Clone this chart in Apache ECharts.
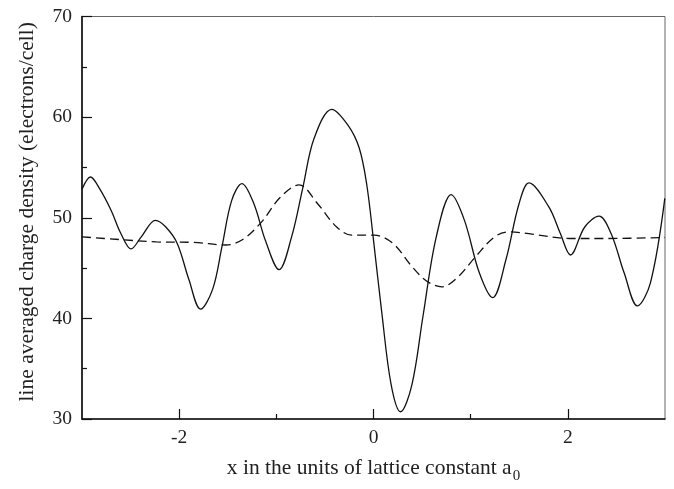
<!DOCTYPE html>
<html>
<head>
<meta charset="utf-8">
<script src="https://cdn.jsdelivr.net/npm/echarts@6/dist/echarts.min.js"></script>
<style>html,body{margin:0;padding:0;background:#fff}#c{width:674px;height:489px}</style>
</head>
<body>
<div id="c"></div>
<script>
// Solid curve: x positions and density values
const solidX = [-3.0,-2.913,-2.816,-2.70,-2.60,-2.495,-2.39,-2.244,-2.14,-2.02,-1.90,-1.78,-1.656,-1.56,-1.46,-1.354,-1.23,-1.114,-0.971,-0.843,-0.727,-0.611,-0.429,-0.263,-0.147,-0.07,0.0,0.085,0.182,0.279,0.395,0.51,0.646,0.80,0.936,1.09,1.226,1.362,1.497,1.60,1.806,1.923,2.027,2.174,2.321,2.445,2.58,2.716,2.85,2.998];
const solidY = [52.84,54.05,52.84,50.72,48.43,46.9,48.1,49.74,49.1,47.45,43.86,40.92,42.88,47.1,51.7,53.4,51.37,47.78,44.84,48.1,53.0,57.9,60.78,59.2,56.93,53.33,47.78,40.6,33.4,30.72,33.4,40.26,48.1,52.29,49.74,44.5,42.06,45.8,51.37,53.46,51.05,48.43,46.3,49.08,50.16,48.43,44.5,41.24,43.53,51.93];
// Dashed curve
const dashX = [-3.0,-2.62,-2.236,-1.85,-1.52,-1.346,-1.153,-0.959,-0.766,-0.573,-0.379,-0.224,0.008,0.20,0.395,0.549,0.704,0.859,1.052,1.246,1.40,1.63,2.02,2.40,3.0];
const dashY = [48.1,47.84,47.6,47.55,47.29,47.84,49.57,52.03,53.27,51.37,49.08,48.27,48.27,47.45,45.16,43.69,43.14,44.02,46.14,48.1,48.6,48.37,47.94,47.94,48.04];
const xMajorTicks = [-2, 0, 2];
const xMinorTicks = [-1, 1];
const yMin = 30, yMax = 70, yStep = 10;

const font = 'Liberation Serif';
const chart = echarts.init(document.getElementById('c'), null, {renderer: 'canvas'});
chart.setOption({
  animation: false,
  grid: {left: 82, right: 9, top: 16.5, bottom: 64.5, show: true, borderColor: '#666', borderWidth: 1, backgroundColor: 'transparent'},
  xAxis: [{
    type: 'value', min: -3, max: 3,
    axisLine: {show: true, onZero: false, lineStyle: {color: '#111', width: 1.6}},
    axisTick: {show: true, inside: true, length: 10, customValues: xMajorTicks, lineStyle: {color: '#111', width: 1.2}},
    axisLabel: {customValues: xMajorTicks, fontFamily: font, fontSize: 19.5, color: '#222', margin: 9},
    splitLine: {show: false},
    name: 'x in the units of lattice constant a{sub|0}',
    nameLocation: 'middle', nameGap: 34,
    nameTextStyle: {fontFamily: font, fontSize: 21.5, color: '#222',
      rich: {sub: {fontFamily: font, fontSize: 15, color: '#222', padding: [16, 0, 0, 1]}}}
  }, {
    type: 'value', min: -3, max: 3, position: 'bottom',
    axisLine: {show: false},
    axisTick: {show: true, inside: true, length: 5, customValues: xMinorTicks, lineStyle: {color: '#111', width: 1.2}},
    axisLabel: {show: false},
    splitLine: {show: false}
  }],
  yAxis: {
    type: 'value', min: yMin, max: yMax, interval: yStep,
    axisLine: {show: true, onZero: false, lineStyle: {color: '#111', width: 1.6}},
    axisTick: {show: true, inside: true, length: 10, lineStyle: {color: '#111', width: 1.2}},
    minorTick: {show: true, splitNumber: 2, length: 5, lineStyle: {color: '#111', width: 1.2}},
    axisLabel: {fontFamily: font, fontSize: 19.5, color: '#222', margin: 10},
    splitLine: {show: false},
    name: 'line averaged charge density (electrons/cell)',
    nameLocation: 'middle', nameGap: 44,
    nameTextStyle: {fontFamily: font, fontSize: 21.5, color: '#222', padding: [0, 0, 0, 12]}
  },
  series: [{
    type: 'line', xAxisIndex: 0, smooth: 0.35, showSymbol: false,
    data: solidX.map((x, i) => [x, solidY[i]]),
    lineStyle: {color: '#111', width: 1.3, type: 'solid'}
  }, {
    type: 'line', xAxisIndex: 0, smooth: 0.35, showSymbol: false,
    data: dashX.map((x, i) => [x, dashY[i]]),
    lineStyle: {color: '#111', width: 1.3, type: [9, 5]}
  }]
});
</script>
</body>
</html>
